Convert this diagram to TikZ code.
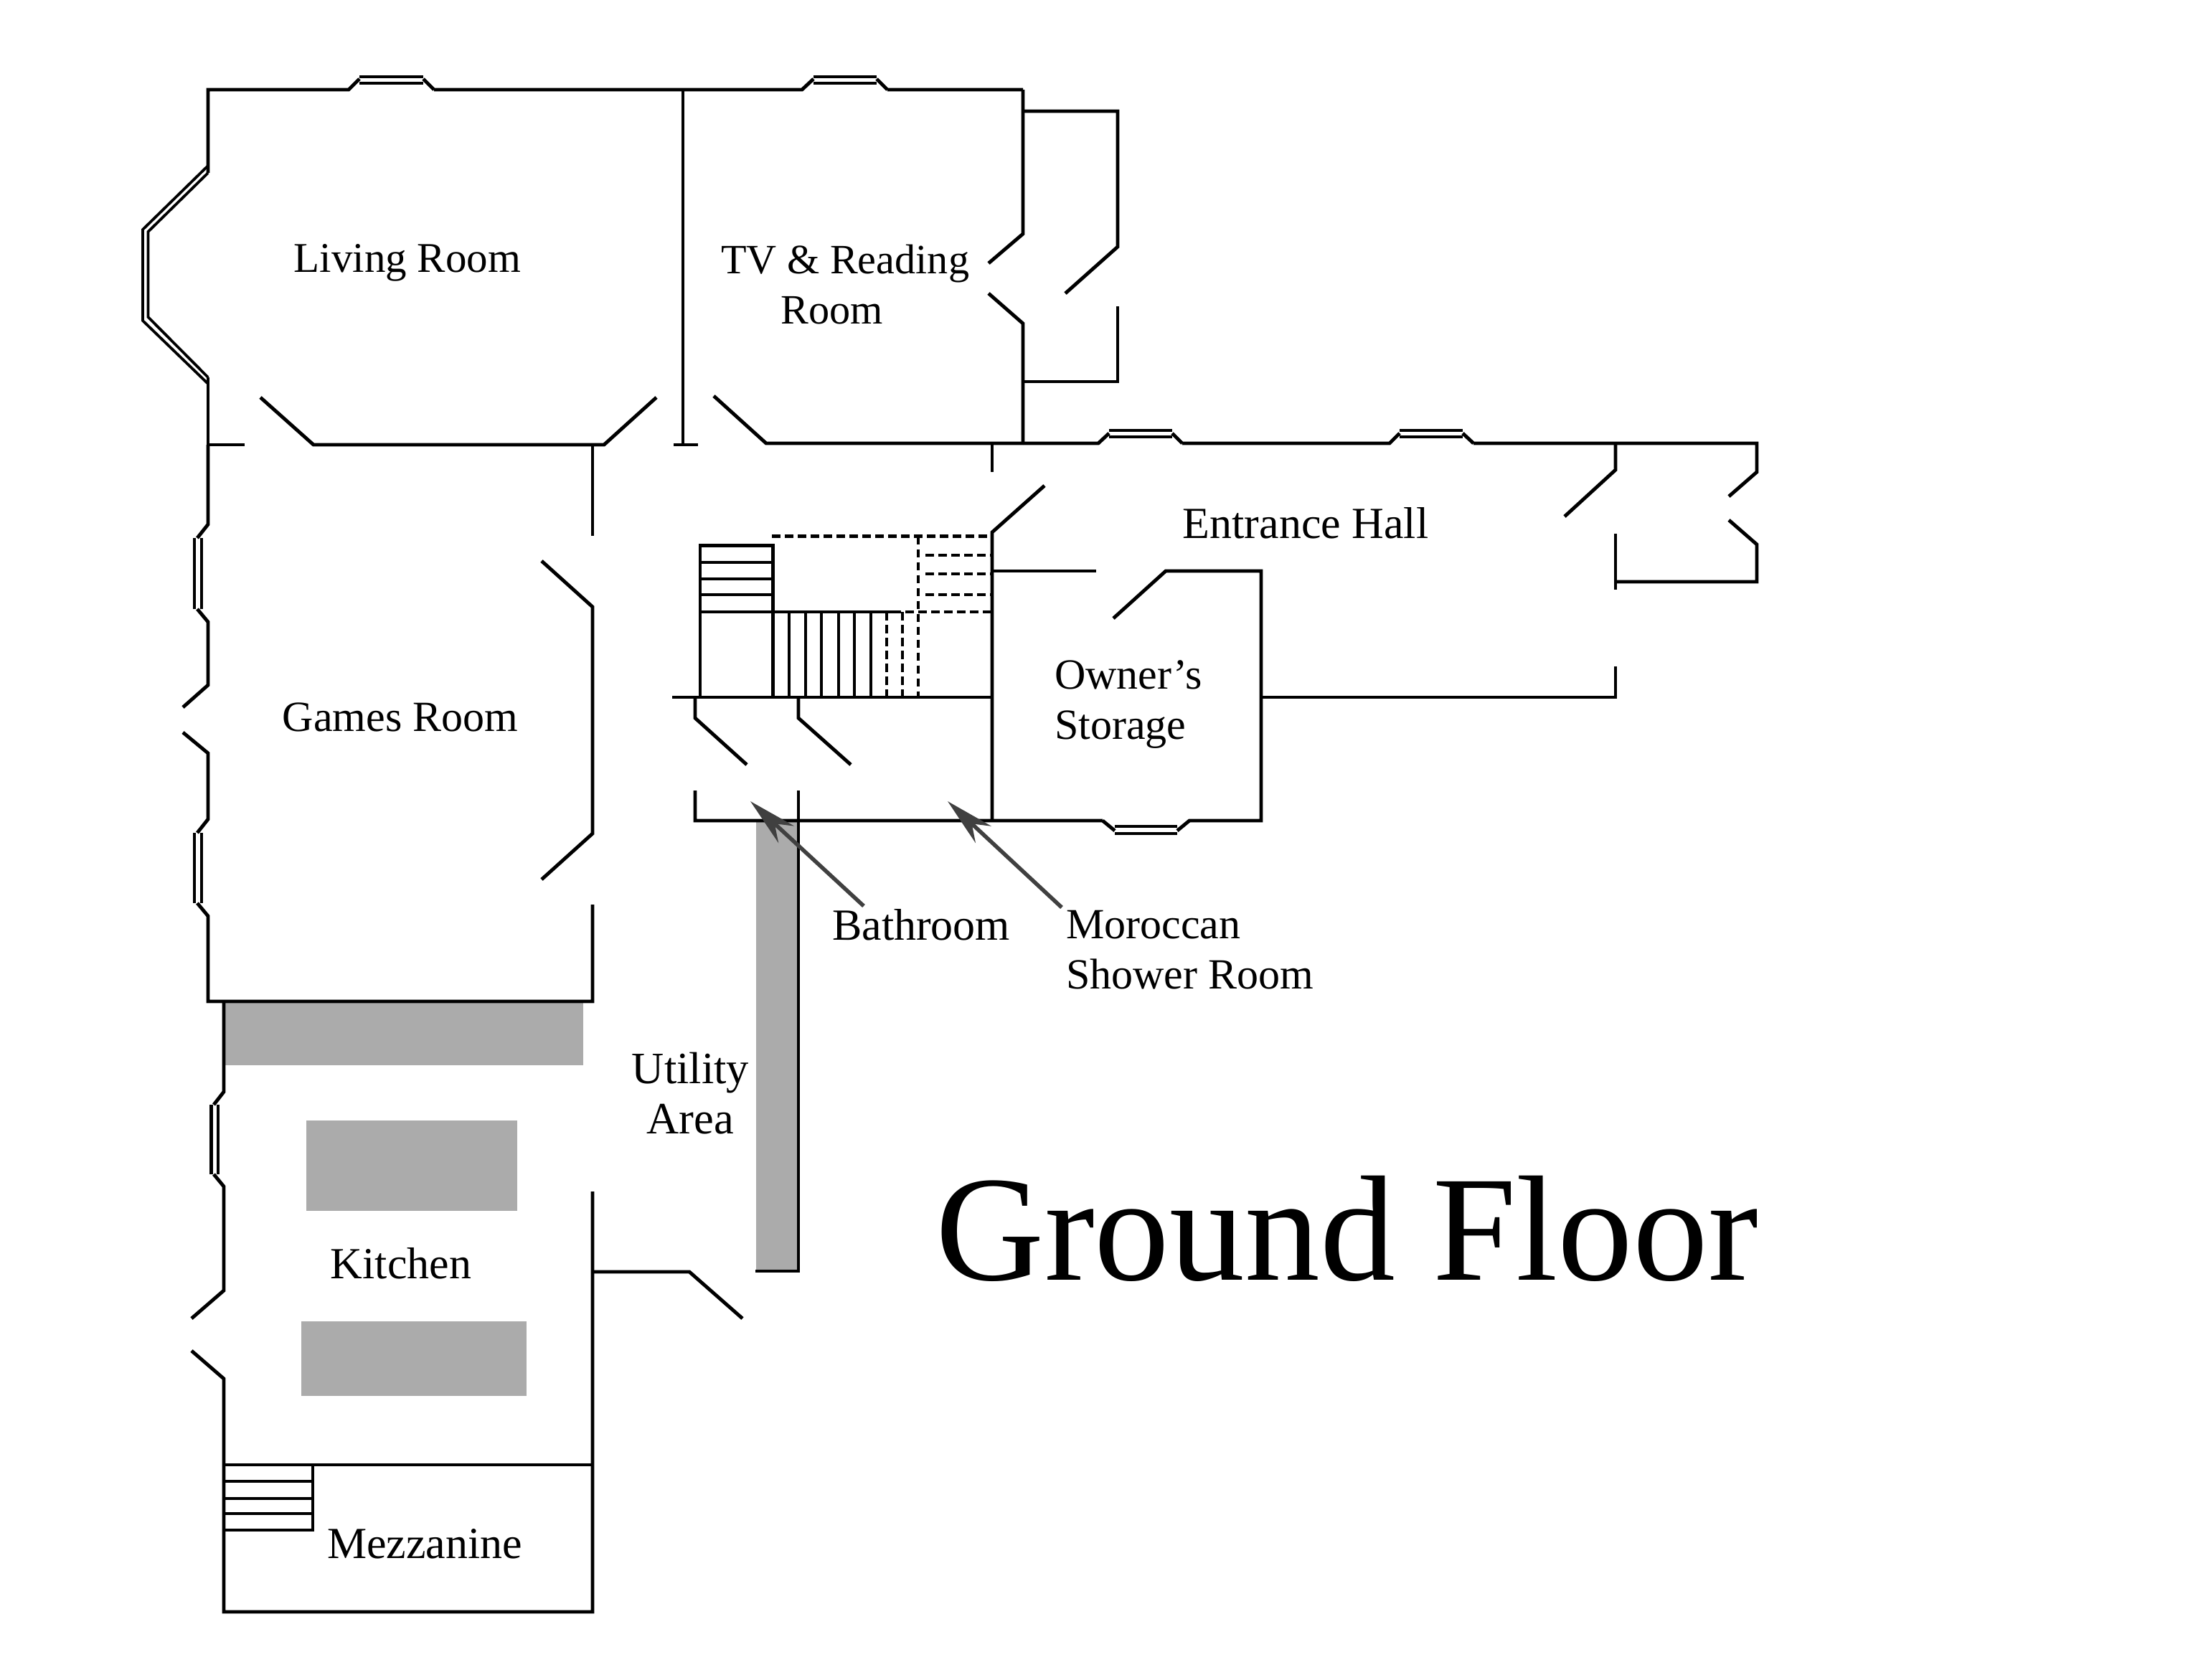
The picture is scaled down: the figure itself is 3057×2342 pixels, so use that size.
\documentclass[tikz,border=0pt]{standalone}
\usepackage{fontspec}
\usetikzlibrary{arrows.meta}
\setmainfont{Liberation Serif}
\definecolor{fixture}{HTML}{ABABAB}
\definecolor{pointer}{HTML}{404040}
\tikzset{
  wall/.style={draw=black,line width=4.9pt,line cap=butt,line join=miter},
  pane/.style={draw=black,line width=4.4pt,line cap=butt,line join=miter},
  baypane/.style={draw=black,line width=3.8pt,line join=miter},
  dashwall/.style={draw=black,line width=4.4pt,dash pattern=on 11.5pt off 6.5pt},
  tread/.style={draw=black,line width=4.4pt},
  block/.style={fill=fixture,draw=none},
  label/.style={font=\fontsize{60}{70}\selectfont,align=center,inner sep=0pt,anchor=center,text=black},
  labelb/.style={font=\fontsize{62}{70}\selectfont,align=center,inner sep=0pt,anchor=center,text=black},
  title/.style={font=\fontsize{209.5}{210}\selectfont,inner sep=0pt,anchor=center,text=black},
  pointerline/.style={draw=pointer,line width=5.5pt,-{Stealth[length=68pt,width=32pt,inset=22pt]}}
}
\begin{document}
\begin{tikzpicture}[x=1pt,y=-1pt]
\useasboundingbox (0,0) rectangle (3057,2342);
% grey fixtures
\fill[block] (314,1398) rectangle (813,1485);
\fill[block] (427,1562) rectangle (721,1688);
\fill[block] (420,1842) rectangle (734,1946);
\fill[block] (1054,1144) rectangle (1113,1772);
% Living room outer wall and top windows
\draw[wall] (290,241) -- (290,125) -- (486,125) -- (501,110) (605,125) -- (590,110) (605,125) -- (1118,125) -- (1134,110) (1237,125) -- (1222,110) (1237,125) -- (1426,125);
\draw[wall] (290,526) -- (290,620);
\draw[pane] (501,107) -- (590,107) (501,116) -- (590,116);
\draw[pane] (1134,107) -- (1222,107) (1134,116) -- (1222,116);
% Living room bay
\draw[baypane] (290,231) -- (199,320) -- (199,447) -- (290,535);
\draw[baypane] (290,241) -- (206.5,323) -- (206.5,442) -- (290,526);
% partition living / TV
\draw[wall] (952,125) -- (952,620);
\draw[wall] (939,620) -- (973,620);
% Living doors
\draw[wall] (290,620) -- (341,620);
\draw[wall] (363,554) -- (437,620) -- (842,620) -- (915,554);
% TV room
\draw[wall] (995,552) -- (1068,618) -- (1426,618);
\draw[wall] (1426,125) -- (1426,326) -- (1378,367);
\draw[wall] (1378,409) -- (1426,451) -- (1426,618);
% Annex
\draw[wall] (1426,155) -- (1558,155) -- (1558,344) -- (1485,409);
\draw[wall] (1558,427) -- (1558,532) -- (1426,532);
% Entrance hall top with windows
\draw[wall] (1426,618) -- (1531,618) -- (1546,604) (1648,618) -- (1634,604) (1648,618) -- (1937,618) -- (1951,604) (2054,618) -- (2039,604) (2054,618) -- (2449,618) -- (2449,658) -- (2410,692);
\draw[pane] (1546,600) -- (1634,600) (1546,609) -- (1634,609);
\draw[pane] (1951,600) -- (2039,600) (1951,609) -- (2039,609);
\draw[wall] (1383,618) -- (1383,658);
\draw[wall] (1383,1144) -- (1383,742) -- (1456,677);
% Porch
\draw[wall] (2252,618) -- (2252,655) -- (2181,720);
\draw[wall] (2410,725) -- (2449,759) -- (2449,811) -- (2252,811);
\draw[wall] (2252,744) -- (2252,822);
\draw[wall] (2252,929) -- (2252,972) -- (1758,972);
% Storage
\draw[wall] (1383,796) -- (1528,796);
\draw[wall] (1552,862) -- (1625,796) -- (1758,796) -- (1758,1144) -- (1658,1144) -- (1641,1158) (1537,1144) -- (1554,1158) (1537,1144) -- (969,1144) -- (969,1102);
\draw[pane] (1554,1152) -- (1641,1152) (1554,1162) -- (1641,1162);
% Stairs
\draw[wall] (937,972) -- (1383,972);
\draw[tread] (976,972) -- (976,760.5) -- (1077.5,760.5) -- (1077.5,972);
\draw[tread] (976,784) -- (1077.5,784) (976,807) -- (1077.5,807) (976,829) -- (1077.5,829) (976,853) -- (1244,853);
\draw[tread] (1100,853) -- (1100,972) (1123,853) -- (1123,972) (1145,853) -- (1145,972) (1169,853) -- (1169,972) (1191,853) -- (1191,972) (1214,853) -- (1214,972);
\draw[dashwall] (1076,747.5) -- (1383,747.5);
\draw[dashwall] (1280,747.5) -- (1280,972);
\draw[dashwall] (1290,774) -- (1383,774) (1290,800) -- (1383,800) (1290,829) -- (1383,829) (1244,853) -- (1383,853);
\draw[dashwall] (1236,853) -- (1236,972) (1258,853) -- (1258,972);
% Bath doors
\draw[wall] (969,972) -- (969,1001) -- (1041,1066);
\draw[wall] (1113,972) -- (1113,1001) -- (1186,1066);
\draw[wall] (1113,1102) -- (1113,1772) -- (1053,1772);
% Games room
\draw[wall] (290,620) -- (290,731) -- (275,750);
\draw[pane] (271,750) -- (271,849) (281,750) -- (281,849);
\draw[wall] (275,849) -- (290,867) -- (290,955) -- (255,986);
\draw[wall] (255,1021) -- (290,1050) -- (290,1142) -- (275,1161);
\draw[pane] (271,1161) -- (271,1259) (281,1161) -- (281,1259);
\draw[wall] (275,1259) -- (290,1277) -- (290,1396) -- (826,1396) -- (826,1261);
\draw[wall] (755,1226) -- (826,1162) -- (826,846) -- (755,782);
\draw[wall] (826,747) -- (826,618);
% Kitchen
\draw[wall] (312,1396) -- (312,1522) -- (298,1540);
\draw[pane] (294.5,1540) -- (294.5,1637) (304,1540) -- (304,1637);
\draw[wall] (298,1637) -- (312,1654) -- (312,1799) -- (267,1838);
\draw[wall] (267,1883) -- (312,1922) -- (312,2247) -- (826,2247) -- (826,1661);
\draw[wall] (826,1773) -- (961,1773) -- (1035,1838);
% Mezzanine
\draw[wall] (312,2042) -- (826,2042);
\draw[wall] (312,2133) -- (436,2133) -- (436,2042);
\draw[tread] (312,2065) -- (436,2065) (312,2089) -- (436,2089) (312,2110) -- (436,2110);
% Labels
\node[label,font=\fontsize{59}{70}\selectfont] (living) at (568,366) {Living Room};
\node[label,font=\fontsize{58.2}{70}\selectfont,anchor=west,align=left] (tv) at (1005,397) {TV \& Reading\\\hspace*{83pt}Room};
\node[labelb] (hall) at (1820,729) {Entrance Hall};
\node[label,anchor=west,align=left] (storage) at (1470,982) {Owner’s\\Storage};
\node[label] (games) at (558,1000) {Games Room};
\node[labelb,font=\fontsize{62.5}{70}\selectfont] (utility) at (962.5,1524) {Utility\\Area};
\node[labelb] (kitchen) at (559,1761) {Kitchen};
\node[labelb] (mezz) at (592,2152) {Mezzanine};
\node[labelb,anchor=west] (bath) at (1160,1289) {Bathroom};
\node[label,anchor=west,align=left] (shower) at (1486,1324) {Moroccan\\Shower Room};
\node[title] (floor) at (1878,1713) {Ground Floor};
% Pointers
\coordinate (bathtail) at (1204,1263);
\coordinate (bathtip) at (1046,1117);
\coordinate (showertail) at (1480,1265);
\coordinate (showertip) at (1321,1117);
\draw[pointerline] (bathtail) -- (bathtip);
\draw[pointerline] (showertail) -- (showertip);
\end{tikzpicture}
\end{document}
